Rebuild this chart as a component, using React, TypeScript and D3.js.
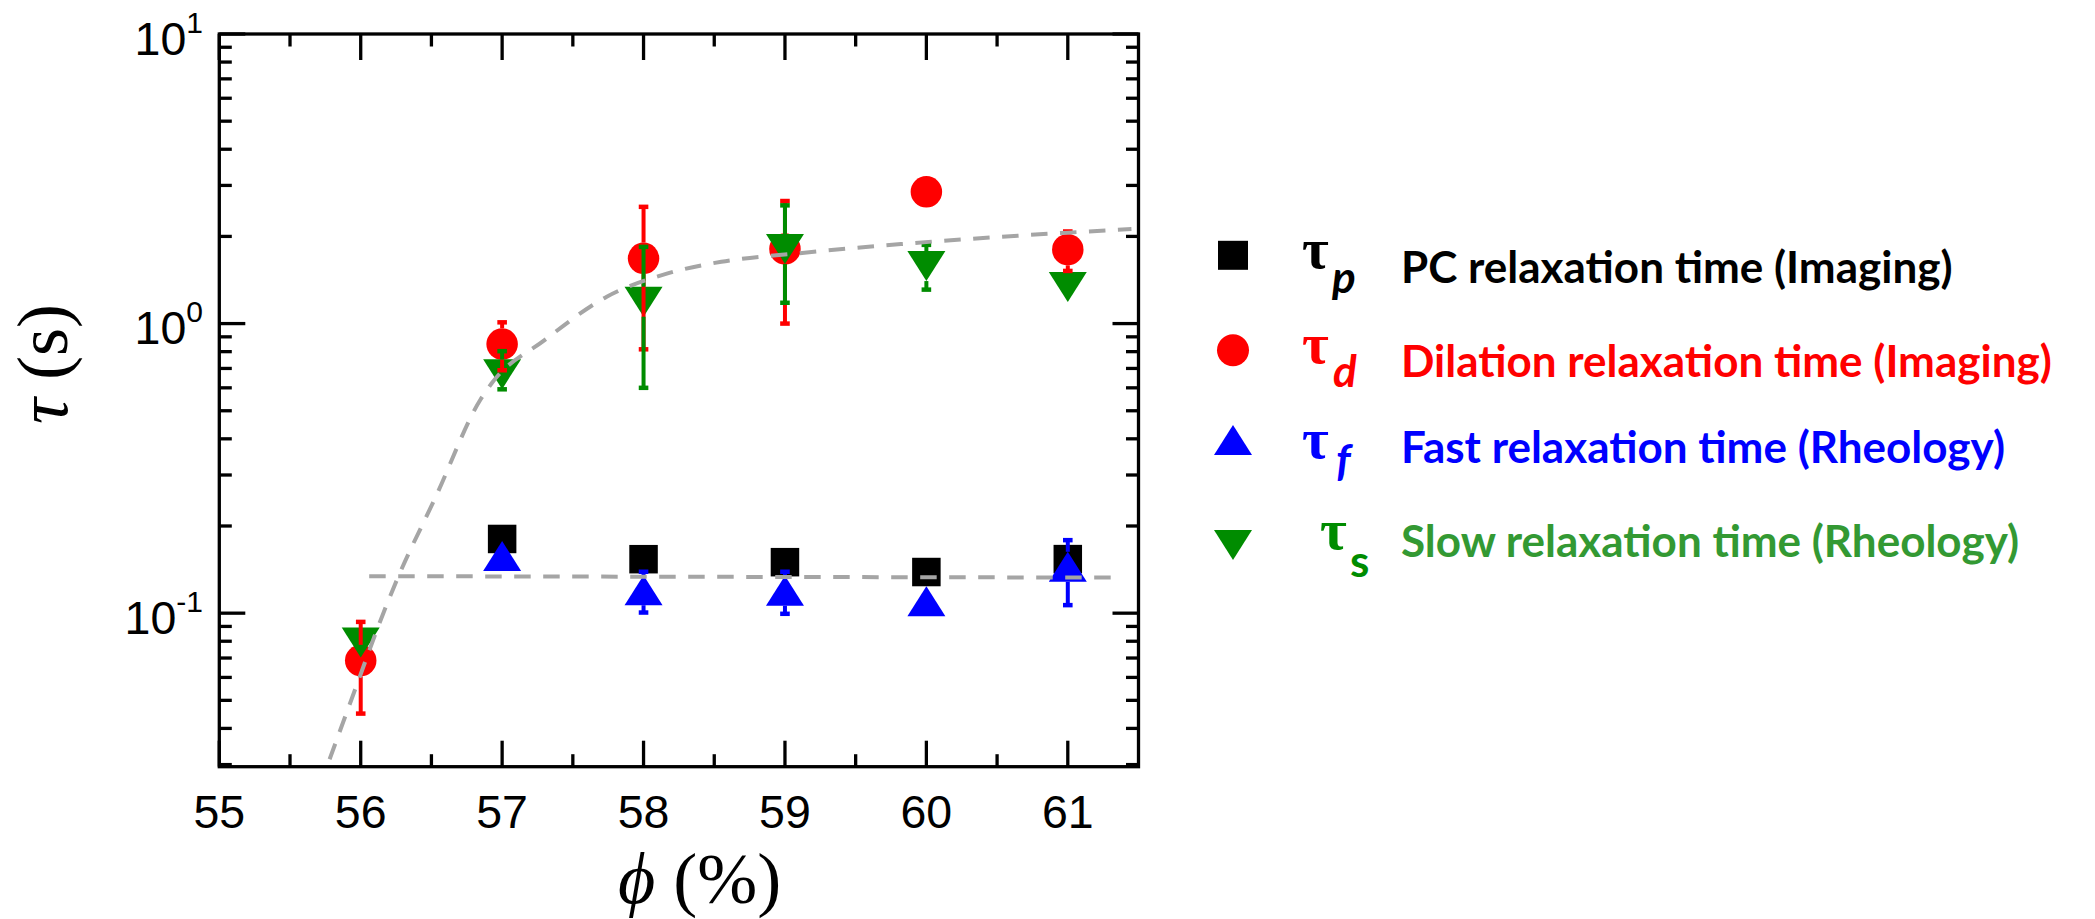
import React from "react";
import * as d3 from "d3";

// ---------- data ----------
const xMajorTicks = [55, 56, 57, 58, 59, 60, 61];
const yDecadeTicks = [0.1, 1, 10];
const yTickExponents = ["-1", "0", "1"];

// tau_p : PC relaxation time (Imaging)
const phiP = [57, 58, 59, 60, 61];
const tauP = [0.1804, 0.1536, 0.15, 0.1387, 0.1537];

// tau_d : Dilation relaxation time (Imaging)
const phiD = [56, 57, 58, 59, 60, 61];
const tauD = [0.0686, 0.85, 1.68, 1.81, 2.85, 1.8];
const tauDLow = [0.045, 0.69, 0.815, 1.0, null, 1.52];
const tauDHigh = [0.0933, 1.01, 2.53, 2.65, null, 2.08];

// tau_f : Fast relaxation time (Rheology)
const phiF = [57, 58, 59, 60, 61];
const tauF = [0.1576, 0.12, 0.1195, 0.11, 0.1446];
const tauFLow = [null, 0.1005, 0.0995, null, 0.1066];
const tauFHigh = [null, 0.139, 0.139, null, 0.1787];

// tau_s : Slow relaxation time (Rheology)
const phiS = [56, 57, 58, 59, 60, 61];
const tauS = [0.0792, 0.669, 1.19, 1.81, 1.58, 1.337];
const tauSLow = [null, 0.593, 0.6, 1.18, 1.31, null];
const tauSHigh = [null, 0.803, 1.84, 2.56, 1.87, null];

// dashed guide curves
const fitSlowPhi = [55.78, 55.95, 56.16, 56.255, 56.53, 56.845, 56.925, 57.3, 57.74, 58.17, 58.55, 59.09, 59.82, 61.0, 61.45];
const fitSlowTau = [0.0313, 0.0528, 0.1, 0.13, 0.252, 0.5445, 0.621, 0.877, 1.238, 1.49, 1.635, 1.748, 1.882, 2.061, 2.12];
const fitFastPhi = [56.06, 61.33];
const fitFastTau = [0.1342, 0.1327];

const legendLabels = [
  "PC relaxation time (Imaging)",
  "Dilation relaxation time (Imaging)",
  "Fast relaxation time (Rheology)",
  "Slow relaxation time (Rheology)",
];
const legendSubs = ["p", "d", "f", "s"];

// ---------- layout / style ----------
const W = 2095;
const H = 919;
const L = 219.3, R = 1138.5, T = 34, B = 766.7;
const C_BLACK = "#000000";
const C_RED = "#ff0000";
const C_BLUE = "#0000ff";
const C_GREEN = "#008c00";
const C_GREEN_TEXT = "#339933";
const C_GRAY = "#a5a5a5";

const SQ = 28.5;
const CR = 15.75;
const TW = 38;
const TH = 30;

const x = d3.scaleLinear().domain([55, 61.5]).range([L, R]);
const y = d3.scaleLog().domain([0.0295, 10]).range([B, T]);

function triUp(cx: number, cy: number) {
  const p = d3.path();
  p.moveTo(cx, cy - TH / 2);
  p.lineTo(cx + TW / 2, cy + TH / 2);
  p.lineTo(cx - TW / 2, cy + TH / 2);
  p.closePath();
  return p.toString();
}
function triDown(cx: number, cy: number) {
  const p = d3.path();
  p.moveTo(cx - TW / 2, cy - TH / 2);
  p.lineTo(cx + TW / 2, cy - TH / 2);
  p.lineTo(cx, cy + TH / 2);
  p.closePath();
  return p.toString();
}

function ErrorBars(props: {
  phi: number[];
  val: number[];
  low: (number | null)[];
  high: (number | null)[];
  half: number;
  color: string;
}) {
  const { phi, val, low, high, half, color } = props;
  const items: React.ReactNode[] = [];
  phi.forEach((p, i) => {
    const cx = x(p);
    const cy = y(val[i]);
    const lo = low[i];
    const hi = high[i];
    if (hi != null) {
      const yh = y(hi);
      if (yh < cy - half) {
        items.push(<line key={"hs" + i} x1={cx} x2={cx} y1={yh} y2={cy - half} stroke={color} strokeWidth={4} />);
      }
      items.push(<line key={"hc" + i} x1={cx - 4.8} x2={cx + 4.8} y1={yh} y2={yh} stroke={color} strokeWidth={4.5} />);
    }
    if (lo != null) {
      const yl = y(lo);
      if (yl > cy + half) {
        items.push(<line key={"ls" + i} x1={cx} x2={cx} y1={cy + half} y2={yl} stroke={color} strokeWidth={4} />);
      }
      items.push(<line key={"lc" + i} x1={cx - 4.8} x2={cx + 4.8} y1={yl} y2={yl} stroke={color} strokeWidth={4.5} />);
    }
  });
  return <g>{items}</g>;
}

export default function App() {
  const xMinor = d3.range(55.5, 61.5, 1);
  const yMinor: number[] = [];
  [0.01, 0.1, 1].forEach((dec) => {
    for (let k = 2; k <= 9; k++) {
      const v = dec * k;
      if (v >= 0.0295 && v <= 10) yMinor.push(v);
    }
  });

  const curve = d3
    .line<number>()
    .x((_, i) => x(fitSlowPhi[i]))
    .y((_, i) => y(fitSlowTau[i]))
    .curve(d3.curveMonotoneX);
  const flat = d3
    .line<number>()
    .x((_, i) => x(fitFastPhi[i]))
    .y((_, i) => y(fitFastTau[i]));

  const tickW = 3.3;
  const majLen = 26;
  const minLen = 12.5;

  const legendMarkerY = [255.3, 350.3, 440, 545];
  const legendTextY = [283, 377, 463, 557];
  const legendTauX = [1302, 1302, 1302, 1320];
  const legendTauY = [268, 363, 458, 549];
  const legendSubX = [1332, 1333, 1336, 1350];
  const legendSubY = [293, 387, 476, 577];
  const legendTextColors = [C_BLACK, C_RED, C_BLUE, C_GREEN_TEXT];
  const legendSymColors = [C_BLACK, C_RED, C_BLUE, C_GREEN];
  const LX = 1233;

  return (
    <svg
      width={W}
      height={H}
      viewBox={`0 0 ${W} ${H}`}
      style={{ position: "absolute", left: 0, top: 0, display: "block", background: "#fff" }}
    >
      <defs>
        <clipPath id="plotclip">
          <rect x={L} y={T} width={R - L} height={B - T} />
        </clipPath>
      </defs>
      <rect x={0} y={0} width={W} height={H} fill="#fff" />

      {/* markers */}
      <g>
        {phiP.map((p, i) => (
          <rect key={"p" + i} x={x(p) - SQ / 2} y={y(tauP[i]) - SQ / 2} width={SQ} height={SQ} fill={C_BLACK} />
        ))}
        {phiD.map((p, i) => (
          <circle key={"d" + i} cx={x(p)} cy={y(tauD[i])} r={CR} fill={C_RED} />
        ))}
        {phiF.map((p, i) => (
          <path key={"f" + i} d={triUp(x(p), y(tauF[i]))} fill={C_BLUE} />
        ))}
        {phiS.map((p, i) => (
          <path key={"s" + i} d={triDown(x(p), y(tauS[i]))} fill={C_GREEN} />
        ))}
      </g>

      {/* error bars */}
      <ErrorBars phi={phiD} val={tauD} low={tauDLow} high={tauDHigh} half={CR} color={C_RED} />
      <ErrorBars phi={phiF} val={tauF} low={tauFLow} high={tauFHigh} half={TH / 2} color={C_BLUE} />
      <ErrorBars phi={phiS} val={tauS} low={tauSLow} high={tauSHigh} half={TH / 2} color={C_GREEN} />

      {/* dashed guides */}
      <g clipPath="url(#plotclip)" fill="none" stroke={C_GRAY} strokeWidth={4} strokeDasharray="16.5 12.5">
        <path d={curve(fitSlowPhi) || ""} />
        <path d={flat(fitFastPhi) || ""} />
      </g>

      {/* frame */}
      <rect x={L} y={T} width={R - L} height={B - T} fill="none" stroke="#000" strokeWidth={tickW} />

      {/* ticks */}
      <g stroke="#000" strokeWidth={tickW}>
        {xMajorTicks.map((t) => (
          <g key={"xm" + t}>
            <line x1={x(t)} x2={x(t)} y1={B} y2={B - majLen} />
            <line x1={x(t)} x2={x(t)} y1={T} y2={T + majLen} />
          </g>
        ))}
        {xMinor.map((t) => (
          <g key={"xn" + t}>
            <line x1={x(t)} x2={x(t)} y1={B} y2={B - minLen} />
            <line x1={x(t)} x2={x(t)} y1={T} y2={T + minLen} />
          </g>
        ))}
        {yDecadeTicks.map((t) => (
          <g key={"ym" + t}>
            <line x1={L} x2={L + majLen} y1={y(t)} y2={y(t)} />
            <line x1={R} x2={R - majLen} y1={y(t)} y2={y(t)} />
          </g>
        ))}
        {yMinor.map((t) => (
          <g key={"yn" + t}>
            <line x1={L} x2={L + minLen} y1={y(t)} y2={y(t)} />
            <line x1={R} x2={R - minLen} y1={y(t)} y2={y(t)} />
          </g>
        ))}
      </g>

      {/* x tick labels */}
      <g fontFamily="'Liberation Sans', Arial, sans-serif" fontSize={46.5} fill="#000" textAnchor="middle">
        {xMajorTicks.map((t) => (
          <text key={"xl" + t} x={x(t)} y={828}>
            {t}
          </text>
        ))}
      </g>

      {/* y tick labels */}
      <g fontFamily="'Liberation Sans', Arial, sans-serif" fill="#000" textAnchor="end">
        {yDecadeTicks.map((t, i) => (
          <text key={"yl" + t} x={203} y={y(t) + 20.5} fontSize={46.5}>
            10
            <tspan fontSize={30} dy={-22}>
              {yTickExponents[i]}
            </tspan>
          </text>
        ))}
      </g>

      {/* axis titles */}
      <text x={618} y={903} fontFamily="'Liberation Serif', 'DejaVu Serif', serif" fontSize={72} fill="#000">
        <tspan fontStyle="italic">{"\u03D5"}</tspan>
        <tspan> (%)</tspan>
      </text>
      <text
        transform={`translate(67,364) rotate(-90)`}
        textAnchor="middle"
        fontFamily="'Liberation Serif', 'DejaVu Serif', serif"
        fontSize={72}
        fill="#000"
      >
        <tspan fontStyle="italic">{"\u03C4"}</tspan>
        <tspan> (s)</tspan>
      </text>

      {/* legend */}
      <g>
        <rect x={LX - 15} y={legendMarkerY[0] - 14.5} width={30} height={29} fill={C_BLACK} />
        <circle cx={LX} cy={legendMarkerY[1]} r={16} fill={C_RED} />
        <path d={triUp(LX, legendMarkerY[2])} fill={C_BLUE} />
        <path d={triDown(LX, legendMarkerY[3])} fill={C_GREEN} />
        {legendLabels.map((lab, i) => (
          <g key={"lg" + i}>
            <text
              x={legendTauX[i]}
              y={legendTauY[i]}
              fontFamily="'Liberation Serif', 'Times New Roman', serif"
              fontWeight="bold"
              fontSize={58}
              fill={legendSymColors[i]}
            >
              {"\u03C4"}
            </text>
            <text
              x={legendSubX[i]}
              y={legendSubY[i]}
              fontFamily="Lato, 'Open Sans', sans-serif"
              fontWeight="bold"
              fontStyle={i === 3 ? "normal" : "italic"}
              fontSize={44}
              fill={legendSymColors[i]}
            >
              {legendSubs[i]}
            </text>
            <text
              x={1401}
              y={legendTextY[i]}
              fontFamily="Lato, 'Open Sans', sans-serif"
              fontWeight="bold"
              fontSize={44}
              fill={legendTextColors[i]}
            >
              {lab}
            </text>
          </g>
        ))}
      </g>
    </svg>
  );
}
